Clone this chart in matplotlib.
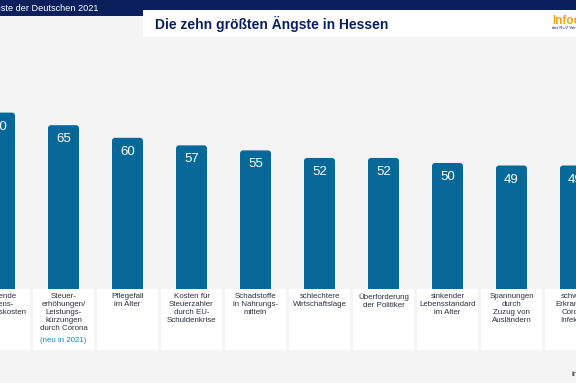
import matplotlib.pyplot as plt
from matplotlib.patches import FancyBboxPatch, Rectangle

plt.rcParams['font.family'] = ['Liberation Sans', 'DejaVu Sans']

# data
labels = [
    "steigende\nLebens-\nhaltungskosten",
    "Steuer-\nerhöhungen/\nLeistungs-\nkürzungen\ndurch Corona",
    "Pflegefall\nim Alter",
    "Kosten für\nSteuerzahler\ndurch EU-\nSchuldenkrise",
    "Schadstoffe\nin Nahrungs-\nmitteln",
    "schlechtere\nWirtschaftslage",
    "Überforderung\nder Politiker",
    "sinkender\nLebensstandard\nim Alter",
    "Spannungen\ndurch\nZuzug von\nAusländern",
    "schwere\nErkrankung\nCorona-\nInfektion",
]
values = [70, 65, 60, 57, 55, 52, 52, 50, 49, 49]

navy = "#0b1f5c"
bar_col = "#06699a"
txt_col = "#2a3040"

W, H = 576, 383
fig = plt.figure(figsize=(W / 100, H / 100), dpi=100)
fig.patch.set_facecolor("#f4f4f4")

# axes over the whole figure: 64 px per category, 2.52 px per unit
px_y = 2.52
y0 = 289
ax = fig.add_axes([0, 0, 1, 1])
ax.set_xlim(0.5 / 64, 9 + 0.5 / 64)
ax.set_ylim(-(H - y0) / px_y, y0 / px_y)
ax.axis("off")
ax.patch.set_alpha(0)

x = [i for i in range(len(values))]
bars = ax.bar(x, values, width=31 / 64, color=bar_col)
for b in bars:
    bx, bw, bh = b.get_x(), b.get_width(), b.get_height()
    b.remove()
    r = 3 / 64
    ax.add_patch(FancyBboxPatch((bx, -3), bw, bh + 3,
                                boxstyle="round,pad=0,rounding_size=%f" % r,
                                mutation_aspect=64 / px_y,
                                facecolor=bar_col, edgecolor="none", zorder=2))

box_w = 61 / 64
box_h = (350 - y0) / px_y
for xi, v, lab in zip(x, values, labels):
    ax.add_patch(Rectangle((xi - box_w / 2, -box_h), box_w, box_h,
                           facecolor="white", edgecolor="none", zorder=3))
    ax.text(xi, v - 14 / px_y, str(v), ha="center", va="center",
            color="white", fontsize=9.5, zorder=4)
    ax.text(xi, -4 / px_y, lab, ha="center", va="top", color=txt_col,
            fontsize=5.7, linespacing=1.2, zorder=4)

# "(neu in 2021)" below the second label
ax.text(1, -4 / px_y - 5 * 8.9 / px_y, "(neu in 2021)", ha="center", va="top",
        color="#1a86b8", fontsize=5.7, zorder=4)

# header band
fig.patches.append(Rectangle((0, 1 - 16 / H), 1, 16 / H, transform=fig.transFigure,
                             facecolor=navy, edgecolor="none", zorder=1))
fig.patches.append(Rectangle((143 / W, 1 - 37 / H), 1 - 143 / W, 27 / H,
                             transform=fig.transFigure, facecolor="white",
                             edgecolor="none", zorder=2))
fig.text(98 / W, 1 - 8 / H, "Die Ängste der Deutschen 2021", ha="right", va="center",
         color="white", fontsize=6.6)
fig.text(155 / W, 1 - 23.5 / H, "Die zehn größten Ängste in Hessen", ha="left",
         va="center", color=navy, fontsize=10, fontweight="bold")
fig.text(552 / W, 1 - 21 / H, "Infocenter", ha="left", va="center",
         color="#f0a41e", fontsize=8.5, fontweight="bold")
fig.text(552 / W, 1 - 28.5 / H, "der R+V Versicherung", ha="left", va="center",
         color=navy, fontsize=3.2)
fig.text(571 / W, 1 - 375 / H, "infocenter.ruv.de", ha="left", va="center",
         color=txt_col, fontsize=6)

fig.savefig("out.png", dpi=100, facecolor=fig.get_facecolor())
